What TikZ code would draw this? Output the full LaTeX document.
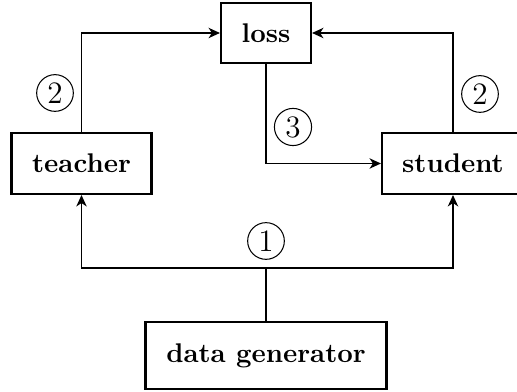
\documentclass[tikz,border=0pt]{standalone}
\usetikzlibrary{arrows.meta}

\tikzset{
  block/.style={draw, line width=0.8pt, font=\fontsize{10.4}{12.5}\selectfont\bfseries, inner sep=0pt, align=center},
  link/.style={line width=0.5pt, -{Stealth[length=4.4pt,width=4pt,inset=1.3pt]}},
  plain/.style={line width=0.5pt},
  stepno/.style={draw, circle, line width=0.4pt, inner sep=1.5pt, font=\fontsize{12}{14}\selectfont}
}

\begin{document}
\begin{tikzpicture}[x=0.385pt, y=-0.385pt]
  \useasboundingbox (0,0) rectangle (517,392);

  % processing blocks
  \node[block, minimum width=90*0.385pt, minimum height=60*0.385pt] (loss) at (266,33) {loss};
  \node[block, minimum width=140*0.385pt, minimum height=61*0.385pt] (teacher) at (81.5,163.5) {teacher};
  \node[block, minimum width=142*0.385pt, minimum height=61*0.385pt] (student) at (453,163.5) {student};
  \node[block, minimum width=241*0.385pt, minimum height=67*0.385pt] (gen) at (266,355.5) {data generator};

  % branch point of the generated data
  \coordinate (split) at (266,268);

  % step 1: data goes to both networks
  \draw[plain] (gen.north) -- (split);
  \draw[link] (split) -| (teacher.south);
  \draw[link] (split) -| (student.south);

  % step 2: outputs feed the loss
  \draw[link] (teacher.north) |- (loss.west);
  \draw[link] (student.north) |- (loss.east);

  % step 3: loss updates the student
  \draw[link] (loss.south) |- (student.west);

  % step markers
  \node[stepno] (s1) at (266,241) {1};
  \node[stepno] (s2a) at (55,93) {2};
  \node[stepno] (s2b) at (480,94) {2};
  \node[stepno] (s3) at (293,127) {3};
\end{tikzpicture}
\end{document}
